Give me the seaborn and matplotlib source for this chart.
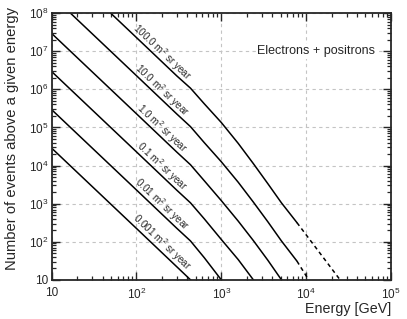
import numpy as np
import pandas as pd
import matplotlib
matplotlib.use("Agg")
import matplotlib.pyplot as plt
import seaborn as sns
from matplotlib.ticker import LogLocator, FuncFormatter, NullFormatter, FixedLocator

sns.set_style("ticks")
plt.rcParams["font.family"] = ["Liberation Sans", "DejaVu Sans"]
plt.rcParams["mathtext.fontset"] = "custom"
plt.rcParams["mathtext.rm"] = "Liberation Sans"
plt.rcParams["mathtext.it"] = "Liberation Sans:italic"
plt.rcParams["mathtext.bf"] = "Liberation Sans:bold"

# ---- data ----
energy_gev = [10, 100, 300, 434, 631, 1000, 1585, 2388, 3548, 5117, 7800]
exposure_labels = ["100.0", "10.0", "1.0", "0.1", "0.01", "0.001"]
log_n_100 = [9.47, 7.36, 6.35, 6.03, 5.62, 5.13, 4.58, 4.05, 3.52, 3.02, 2.50]
log_n_10 = [8.47, 6.36, 5.35, 5.02, 4.60, 4.10, 3.56, 3.04, 2.52, 2.02, 1.49]
log_n_1 = [7.47, 5.36, 4.35, 4.02, 3.60, 3.08, 2.54, 2.03, 1.51, 1.00, 0.47]
log_n_01 = [6.47, 4.36, 3.35, 3.02, 2.60, 2.06, 1.53, 1.00, 0.48]
log_n_001 = [5.47, 3.36, 2.35, 2.02, 1.58, 1.00, 0.45]
log_n_0001 = [4.46, 2.35, 1.34, 1.00, 0.58]
# dashed extrapolations
dash_energy_10 = [7800, 10700]
dash_log_n_10 = [1.49, 1.00]
dash_energy_100 = [7800, 25100]
dash_log_n_100 = [2.50, 1.00]

x_major_ticks = [1e1, 1e2, 1e3, 1e4, 1e5]
y_major_ticks = [1e1, 1e2, 1e3, 1e4, 1e5, 1e6, 1e7, 1e8]

solid_series = [log_n_100, log_n_10, log_n_1, log_n_01, log_n_001, log_n_0001]

fig = plt.figure(figsize=(4.07, 3.19), dpi=100)
ax = fig.add_axes([51.5 / 407, 39.2 / 319, (391 - 51.5) / 407, (279.8 - 13.1) / 319])
ax.set_xscale("log")
ax.set_yscale("log")
ax.set_xlim(10, 1e5)
ax.set_ylim(10, 1e8)

for label, logs in zip(exposure_labels, solid_series):
    e = energy_gev[: len(logs)]
    df = pd.DataFrame({"E": e, "N": 10 ** np.array(logs)})
    sns.lineplot(data=df, x="E", y="N", ax=ax, color="black", lw=1.1,
                 estimator=None, sort=False)

for e, logs in [(dash_energy_10, dash_log_n_10), (dash_energy_100, dash_log_n_100)]:
    df = pd.DataFrame({"E": e, "N": 10 ** np.array(logs)})
    sns.lineplot(data=df, x="E", y="N", ax=ax, color="black", lw=1.1,
                 estimator=None, sort=False, dashes=False)
    ax.lines[-1].set_dashes((2.6, 2.2))

ax.set_xlim(10, 1e5)
ax.set_ylim(10, 1e8)

# labels along the lines
le = 2.30
for label, logs in zip(exposure_labels, solid_series):
    le_arr = np.log10(energy_gev[: len(logs)])
    ln = np.interp(le, le_arr, logs)
    p1 = ax.transData.transform((10 ** 2.1, 10 ** np.interp(2.1, le_arr, logs)))
    p2 = ax.transData.transform((10 ** 2.5, 10 ** np.interp(2.5, le_arr, logs)))
    ang = np.degrees(np.arctan2(p2[1] - p1[1], p2[0] - p1[0]))
    ax.text(10 ** le, 10 ** (ln + 0.26), f"{label} m$^{{2}}$ sr year", rotation=ang,
            ha="center", va="center", fontsize=7.2, rotation_mode="anchor")

ax.text(10 ** 4.812, 1e7, "Electrons + positrons", ha="right", va="center", fontsize=9,
        bbox=dict(facecolor="white", edgecolor="none", pad=1.0), zorder=5)

# ticks
def fmt(v, pos):
    ex = int(round(np.log10(v)))
    if ex == 1:
        return "10"
    return r"$\mathregular{10^{%d}}$" % ex

for axis, majors in ((ax.xaxis, x_major_ticks), (ax.yaxis, y_major_ticks)):
    axis.set_major_locator(FixedLocator(majors))
    axis.set_minor_locator(LogLocator(base=10, subs=np.arange(2, 10), numticks=100))
    axis.set_major_formatter(FuncFormatter(fmt))
    axis.set_minor_formatter(NullFormatter())

ax.tick_params(which="both", direction="in", top=True, right=True, labelsize=8.5)
ax.tick_params(which="major", length=6, width=1.0)
ax.tick_params(which="minor", length=3.2, width=0.9)
ax.tick_params(axis="x", pad=5)
ax.tick_params(axis="y", pad=2)
for s in ax.spines.values():
    s.set_linewidth(1.3)
    s.set_visible(True)

ax.grid(True, which="major", color="#c4c4c4", linestyle=(0, (3, 3)), linewidth=0.8)
ax.set_axisbelow(True)
ax.set_xlabel("")
ax.set_ylabel("")

fig.text(12 / 407, 1 - 7 / 319, "Number of events above a given energy", rotation=90,
         ha="center", va="top", fontsize=10.6)
fig.text(391 / 407, 1 - 309 / 319, "Energy [GeV]", ha="right", va="center", fontsize=10.3)

fig.savefig("out.png", dpi=100)
